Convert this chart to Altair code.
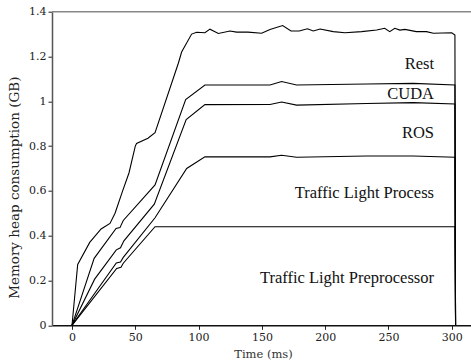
import altair as alt
import pandas as pd

# Cumulative (stacked) heap consumption tops, GB
pre_t = [0, 35.3, 38.7, 40.5, 65.6, 302.5, 303]
pre_v = [0, 0.254, 0.259, 0.277, 0.44, 0.44, 0]

proc_t = [0, 35, 38.3, 40.5, 65.6, 90.6, 105, 156.4, 165.6, 177.4, 232.8, 269.6, 302.5, 303]
proc_v = [0, 0.278, 0.282, 0.303, 0.48, 0.70, 0.752, 0.752, 0.759, 0.75, 0.756, 0.756, 0.75, 0]

ros_t = [0, 17.9, 35, 38.3, 41, 65, 90.2, 105, 156.4, 165.6, 177.4, 232.8, 269.6, 302.5, 303]
ros_v = [0, 0.206, 0.337, 0.346, 0.377, 0.541, 0.918, 0.985, 0.986, 0.997, 0.983, 0.99, 0.994, 0.988, 0]

cuda_t = [0, 17.5, 34.8, 37.9, 40.5, 65.6, 89.8, 105, 156.4, 165.6, 177.4, 232.8, 269.6, 302.5, 303]
cuda_v = [0, 0.299, 0.432, 0.436, 0.468, 0.627, 1.008, 1.073, 1.073, 1.088, 1.073, 1.077, 1.08, 1.073, 0]

rest_t = [0, 4.5, 14, 23, 30, 34, 40, 45, 50, 51, 60, 65.6, 84, 86.6, 94.5, 98.5, 105, 109,
          115.6, 124.8, 130, 139, 149.8, 156.4, 166.4, 173, 179.5, 186, 190.6, 196, 206.4,
          215.6, 228.8, 240.7, 247, 251, 255, 259, 263, 272, 280, 285.5, 300, 302.5, 303]
rest_v = [0, 0.272, 0.37, 0.43, 0.455, 0.50, 0.60, 0.68, 0.80, 0.812, 0.835, 0.86, 1.17, 1.22,
          1.30, 1.308, 1.306, 1.322, 1.303, 1.314, 1.309, 1.309, 1.304, 1.321, 1.338, 1.314,
          1.314, 1.324, 1.314, 1.323, 1.311, 1.306, 1.311, 1.318, 1.326, 1.311, 1.326, 1.318,
          1.321, 1.311, 1.311, 1.304, 1.306, 1.296, 0]

labels = ["Rest", "CUDA", "ROS", "Traffic Light Process", "Traffic Light Preprocessor"]
label_y = [1.166, 1.031, 0.857, 0.589, 0.2125]
label_x = [286, 286, 286, 286, 286]

series = [("pre", pre_t, pre_v), ("proc", proc_t, proc_v), ("ros", ros_t, ros_v),
          ("cuda", cuda_t, cuda_v), ("rest", rest_t, rest_v)]
rows = []
for name, ts, vs in series:
    for i, (t, v) in enumerate(zip(ts, vs)):
        rows.append({"series": name, "t": t, "v": v, "i": i})
df = pd.DataFrame(rows)
lab_df = pd.DataFrame({"label": labels, "x": label_x, "y": label_y})

xscale = alt.Scale(domain=[-15.8, 315.2], nice=False, zero=False)
yscale = alt.Scale(domain=[0, 1.4], nice=False)

xaxis = alt.Axis(values=[0, 50, 100, 150, 200, 250, 300], title="Time (ms)",
                 titleX=211, titleY=29, titleBaseline="middle", titleAlign="center",
                 titleFontSize=11.5, titleFontWeight=300, titleColor="#333", labelPadding=2)
yaxis = alt.Axis(values=[0, 0.2, 0.4, 0.6, 0.8, 1, 1.2, 1.4], format="~g",
                 title="Memory heap consumption (GB)", titleX=-38, titleY=175.5,
                 titleBaseline="middle", titleAlign="center", titleAngle=-90,
                 titleFontSize=13.5, titleFontWeight=300, domainColor="#555",
                 labelPadding=2)

lines = alt.Chart(df).mark_line(color="black", strokeWidth=1.1, clip=True).encode(
    x=alt.X("t:Q", scale=xscale, axis=xaxis),
    y=alt.Y("v:Q", scale=yscale, axis=yaxis),
    detail="series:N",
    order="i:Q",
)

top = alt.Chart(pd.DataFrame({"y": [1.4]})).mark_rule(color="#888", strokeWidth=1.5).encode(
    y=alt.Y("y:Q", scale=yscale, axis=yaxis)
)

texts = alt.Chart(lab_df).mark_text(align="right", baseline="middle", font="Liberation Serif",
                                    fontSize=16.5, color="#111").encode(
    x=alt.X("x:Q", scale=xscale, axis=xaxis), y=alt.Y("y:Q", scale=yscale, axis=yaxis),
    text="label:N"
)

chart = alt.layer(lines, top, texts).properties(
    width=419, height=313.6,
    autosize=alt.AutoSizeParams(type="none"),
    padding={"left": 52, "top": 11.7, "right": 0, "bottom": 38.7},
).configure_view(strokeWidth=0).configure_axis(
    labelFont="DejaVu Serif", labelFontSize=11, labelColor="#222",
    titleFont="DejaVu Serif", titleColor="#222",
    grid=False, tickSize=4, tickColor="#222", domainColor="#111", domainWidth=1.5,
)

chart.save("out.html", embed_options={"renderer": "svg", "actions": False})
